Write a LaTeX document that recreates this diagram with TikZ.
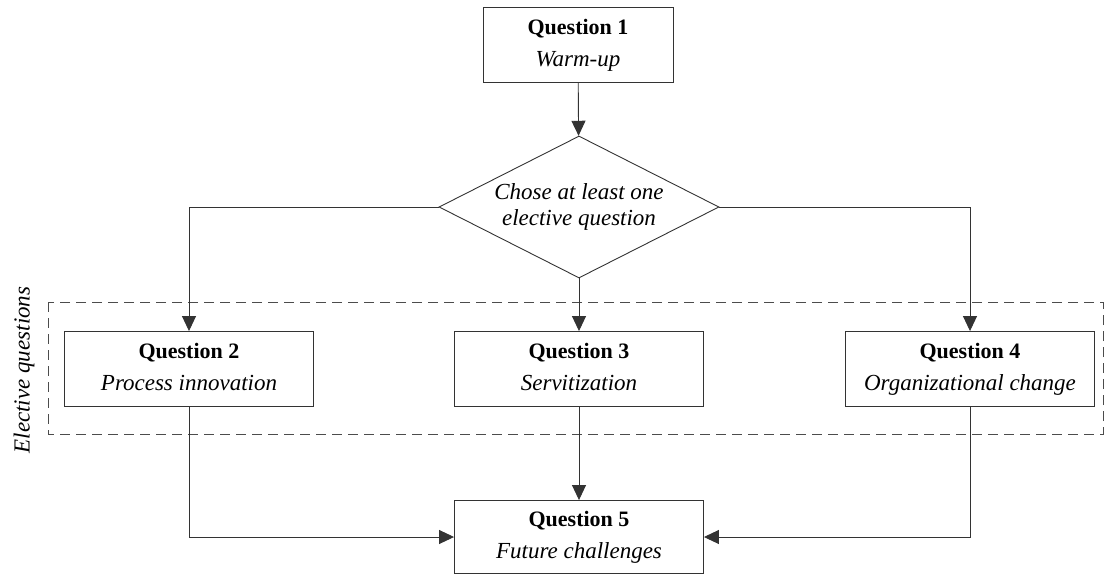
\documentclass[tikz,border=0pt]{standalone}
\usepackage{fontspec}
\setmainfont{Liberation Serif}
\usetikzlibrary{arrows.meta,shapes.geometric}
\newcommand{\qtitle}[1]{{\fontsize{22}{32}\selectfont\bfseries #1}}
\newcommand{\qsub}[1]{{\fontsize{23}{32}\selectfont\itshape #1\rule[-5pt]{0pt}{5pt}}}
\begin{document}
\begin{tikzpicture}[x=1pt,y=-1pt,
  qbox/.style={draw=black!80,line width=0.9pt,fill=white,minimum width=#1,minimum height=75pt,inner sep=0pt,align=center,font=\fontsize{22}{32}\selectfont},
  qbox/.default=249pt,
  choice/.style={draw=black!80,line width=0.9pt,diamond,aspect=2,minimum width=280pt,minimum height=142pt,inner sep=0pt,align=center,font=\fontsize{23}{26}\selectfont\itshape},
  link/.style={draw=black!80,line width=0.9pt,-{Triangle[length=15pt,width=14pt]}},
  group/.style={draw=black!70,line width=0.8pt,dash pattern=on 10pt off 6pt}]
\useasboundingbox (0,0) rectangle (1104,579);
% group of elective questions
\draw[group] (48,302) rectangle (1103,434);
\node[rotate=90,font=\fontsize{23}{26}\selectfont\itshape] (grp) at (24,370) {Elective questions};
% nodes
\node[qbox=190pt] (q1) at (578,45) {\qtitle{Question 1}\\\qsub{Warm-up}};
\node[choice] (dec) at (579,207) {Chose at least one\\elective question};
\node[qbox] (q2) at (189,369) {\qtitle{Question 2}\\\qsub{Process innovation}};
\node[qbox] (q3) at (579,369) {\qtitle{Question 3}\\\qsub{Servitization}};
\node[qbox] (q4) at (970,369) {\qtitle{Question 4}\\\qsub{Organizational change}};
\node[qbox,minimum height=73pt] (q5) at (579,537) {\qtitle{Question 5}\\\qsub{Future challenges}};
% connectors
\draw[link] (q1) -- (dec);
\draw[link] (dec.west) -| (q2.north);
\draw[link] (dec) -- (q3);
\draw[link] (dec.east) -| (q4.north);
\draw[link] (q3) -- (q5);
\draw[link] (q2.south) |- (q5.west);
\draw[link] (q4.south) |- (q5.east);
\end{tikzpicture}
\end{document}
